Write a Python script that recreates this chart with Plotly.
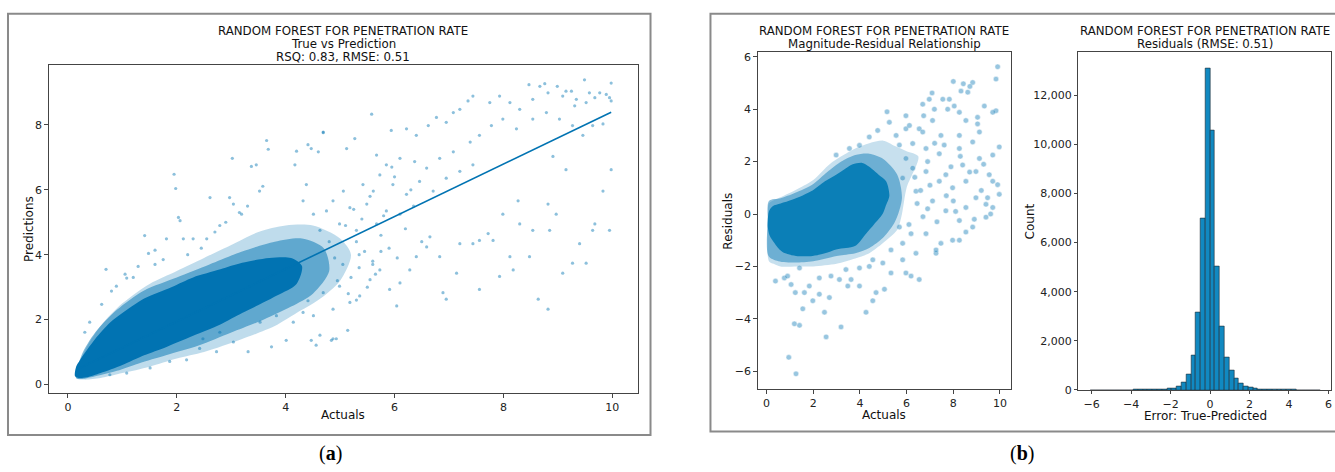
import plotly.graph_objects as go

# ---------------- DATA ----------------
# (a) True vs Prediction: density envelopes (core / mid / outer) and sparse points
pred_core_x = [0.13, 0.15, 0.22, 0.5, 0.77, 1.0, 1.4, 1.9, 2.3, 2.8, 3.2, 3.7, 4.1, 4.3, 4.2, 3.85, 3.5, 3.2, 2.8, 2.3, 1.8, 1.4, 1.0, 0.6, 0.35, 0.2]
pred_core_y = [0.25, 0.55, 0.75, 1.4, 1.9, 2.2, 2.65, 3.0, 3.3, 3.55, 3.75, 3.9, 3.9, 3.65, 3.1, 2.75, 2.45, 2.2, 1.85, 1.5, 1.15, 0.9, 0.6, 0.35, 0.22, 0.2]
pred_mid_x = [0.15, 0.25, 0.5, 0.9, 1.4, 2.0, 2.6, 3.2, 3.8, 4.3, 4.7, 4.8, 4.5, 4.1, 3.6, 3.0, 2.4, 1.8, 1.3, 0.9, 0.5, 0.3]
pred_mid_y = [0.2, 0.9, 1.6, 2.3, 2.9, 3.3, 3.7, 4.1, 4.4, 4.5, 4.2, 3.5, 2.8, 2.4, 2.0, 1.6, 1.2, 0.9, 0.65, 0.42, 0.25, 0.18]
pred_halo_x = [0.15, 0.3, 0.6, 1.0, 1.5, 2.0, 2.5, 3.0, 3.5, 4.0, 4.5, 5.0, 5.2, 5.0, 4.6, 4.2, 3.8, 3.2, 2.5, 2.0, 1.5, 1.0, 0.6, 0.3]
pred_halo_y = [0.2, 1.0, 1.8, 2.5, 3.1, 3.5, 3.9, 4.3, 4.7, 4.9, 4.9, 4.5, 4.0, 3.2, 2.6, 2.2, 1.8, 1.4, 1.0, 0.8, 0.55, 0.35, 0.2, 0.15]
pred_pts_x = [9.49, 9.98, 8.47, 8.76, 8.67, 8.99, 9.15, 9.25, 9.58, 9.77, 9.89, 9.95, 9.98, 9.68, 9.52, 9.31, 9.34, 9.09, 8.82, 8.54,
              8.30, 8.12, 7.93, 7.75, 7.44, 7.35, 7.20, 6.95, 7.08, 6.77, 6.62, 6.40, 6.22, 5.94, 5.58, 5.27, 5.12, 4.69, 4.47, 4.60,
              5.67, 5.85, 6.10, 6.37, 6.59, 6.83, 7.08, 7.39, 7.56, 7.78, 7.99, 8.24, 8.54, 8.79, 9.03, 9.27, 9.46, 9.64, 9.83, 5.42,
              5.61, 5.73, 5.97, 6.22, 6.46, 6.71, 6.95, 7.20, 7.44, 5.06, 4.87, 4.75, 5.18, 5.49, 5.85, 6.10, 4.99, 5.30, 5.67, 4.63,
              4.51, 4.32, 4.38, 9.98, 9.83, 9.68, 9.95, 9.52, 9.40, 9.15, 8.91, 8.82, 8.64, 8.82, 8.54, 8.48, 8.30, 8.18, 8.12, 7.93,
              7.81, 7.72, 7.56, 7.44, 7.20, 7.14, 6.95, 6.89, 6.83, 6.65, 6.59, 6.40, 6.28, 6.10, 6.04, 5.91, 5.73, 5.55, 5.36, 5.18,
              4.99, 4.87, 4.69, 4.51, 4.63, 4.87, 5.14, 4.47, 4.32, 7.56, 8.27, 7.99, 8.85, 8.97, 9.09, 9.27, 9.64,
              1.95, 1.98, 3.65, 3.68, 4.20, 4.17, 4.41, 4.69, 3.02, 3.37, 3.46, 3.52, 3.58, 2.97, 2.61, 2.79, 3.04, 3.19, 2.55, 2.30,
              2.12, 2.03, 2.06, 1.81, 1.60, 1.48, 1.41, 0.70, 0.80, 1.08, 1.29, 0.89, 0.62, 0.40, 0.31,
              3.31, 3.74, 4.01, 4.56, 4.84, 4.93, 4.14, 4.41, 3.04, 2.73, 2.42, 2.18, 1.87, 1.51, 1.08, 0.77, 2.48, 2.79, 3.53, 3.83,
              5.30, 5.45, 5.60, 5.35, 5.20, 5.50, 5.75, 5.90, 6.05, 5.65, 5.40, 5.25, 5.55, 5.80, 6.20, 6.35, 6.50, 6.00, 5.95, 6.30,
              4.90, 5.05, 4.95, 5.15, 5.30, 5.10, 4.80, 5.35, 5.60, 5.75, 2.20, 2.45, 2.70, 1.60, 1.75, 2.90, 3.15, 3.30, 1.20, 1.05]
pred_pts_y = [9.39, 9.29, 9.24, 9.27, 9.19, 9.19, 9.04, 9.04, 8.99, 8.99, 8.94, 8.84, 8.74, 8.84, 8.69, 8.59, 8.79, 8.89, 8.99, 8.79,
              8.48, 8.69, 8.89, 8.69, 8.89, 8.74, 8.48, 8.08, 8.38, 8.23, 7.98, 7.68, 7.88, 7.83, 8.33, 7.58, 7.27, 7.78, 7.27, 7.17,
              7.07, 6.77, 6.97, 6.87, 6.67, 6.97, 7.17, 7.47, 7.68, 7.98, 8.18, 7.88, 8.18, 8.38, 8.18, 7.98, 7.68, 7.98, 8.03, 6.16,
              5.96, 6.46, 6.16, 5.86, 6.26, 5.96, 6.36, 6.57, 6.77, 5.96, 5.66, 5.35, 5.45, 5.56, 5.35, 5.25, 4.95, 4.75, 4.95, 4.75,
              5.25, 5.66, 6.16, 6.62, 5.96, 4.95, 4.75, 3.74, 4.34, 6.62, 7.03, 5.56, 2.63, 2.32, 4.75, 3.94, 4.95, 3.53, 3.94, 3.33,
              4.44, 4.65, 2.93, 4.34, 4.34, 3.43, 2.63, 2.83, 3.94, 4.55, 4.24, 3.94, 3.53, 3.13, 2.42, 2.93, 3.53, 3.23, 2.73, 2.53,
              3.03, 2.32, 2.83, 2.12, 1.52, 1.41, 1.67, 1.36, 2.22, 4.44, 5.66, 5.25, 4.75, 5.25, 3.43, 3.74, 4.75,
              6.48, 6.04, 7.52, 7.25, 7.19, 6.77, 7.39, 7.76, 6.97, 6.72, 6.77, 5.96, 6.11, 5.76, 5.76, 4.90, 5.56, 5.25, 4.49, 4.49,
              4.49, 5.15, 5.05, 4.49, 4.14, 4.04, 4.59, 3.55, 2.88, 3.28, 3.64, 3.03, 2.47, 1.92, 1.61,
              1.01, 1.16, 1.36, 1.21, 1.36, 1.41, 1.92, 2.58, 1.31, 1.01, 1.11, 0.76, 0.71, 0.51, 0.35, 0.30, 1.41, 1.61, 1.92, 2.12,
              4.40, 4.10, 3.80, 3.60, 3.30, 3.00, 4.60, 4.20, 3.90, 3.40, 5.10, 5.40, 5.80, 5.20, 4.80, 5.50, 4.40, 6.40, 6.70, 6.00,
              3.90, 3.70, 3.20, 2.80, 2.60, 4.90, 4.40, 4.00, 3.70, 4.10, 4.00, 4.20, 4.70, 3.70, 3.85, 5.00, 5.30, 5.50, 3.30, 3.40]
fit_x = [0.15, 9.98]
fit_y = [0.45, 8.39]

# (b-left) Magnitude-Residual Relationship
res_core_x = [0.05, 0.1, 0.26, 0.6, 1.12, 1.97, 2.5, 2.98, 3.4, 3.69, 4.1, 4.4, 4.8, 5.12, 5.26, 5.1, 4.97, 4.6, 4.26, 3.83, 3.4, 2.98, 2.5, 1.97, 1.26, 0.8, 0.55, 0.25, 0.12, 0.05]
res_core_y = [-0.25, 0.1, 0.3, 0.4, 0.55, 0.9, 1.25, 1.5, 1.75, 1.9, 1.95, 1.8, 1.5, 1.25, 0.7, 0.3, 0.0, -0.4, -0.75, -1.2, -1.3, -1.35, -1.5, -1.6, -1.6, -1.5, -1.35, -1.0, -0.8, -0.5]
res_mid_x = [0.08, 0.05, 0.1, 0.6, 1.2, 2.0, 2.6, 3.2, 3.8, 4.4, 5.0, 5.6, 5.8, 5.5, 5.0, 4.4, 3.8, 3.0, 2.0, 1.2, 0.5]
res_mid_y = [-1.6, -0.2, 0.5, 0.6, 0.8, 1.15, 1.6, 2.0, 2.25, 2.3, 2.1, 1.5, 0.6, -0.3, -0.9, -1.3, -1.5, -1.6, -1.8, -1.85, -1.8]
res_halo_x = [0.1, 0.05, 0.1, 0.5, 1.2, 2.0, 2.7, 3.2, 3.8, 4.4, 5.0, 5.5, 6.0, 6.5, 6.0, 5.8, 5.6, 5.0, 4.4, 3.8, 3.0, 2.0, 1.3, 0.6, 0.3]
res_halo_y = [-1.8, -0.3, 0.4, 0.6, 0.9, 1.3, 1.9, 2.2, 2.5, 2.7, 2.8, 2.6, 2.4, 2.2, 1.0, 0.0, -0.6, -1.1, -1.5, -1.7, -1.9, -2.0, -2.0, -2.0, -1.9]
res_pts_x = [9.90, 9.83, 8.00, 8.43, 8.83, 8.71, 7.09, 6.69, 6.97, 7.55, 7.83, 8.33, 8.62, 8.26, 8.54, 9.04, 9.33, 9.83, 9.69, 5.16,
             5.97, 6.73, 7.19, 7.76, 8.04, 9.04, 9.12, 5.26, 4.76, 4.40, 5.97, 6.54, 7.11, 7.47, 8.26, 8.83, 9.97, 9.69, 9.12, 8.26,
             7.61, 6.83, 6.26, 5.69, 8.40, 8.97, 9.54, 9.90, 9.97, 9.47, 8.97, 8.54, 7.97, 7.40, 6.83, 6.26, 5.83, 6.40, 7.11, 7.68,
             8.26, 8.83, 9.40, 9.69, 8.54, 7.97, 7.47, 6.83, 6.19, 5.69, 5.83, 6.40, 7.26, 6.19, 6.54, 5.33, 5.83, 4.98, 5.33, 4.55,
             4.40, 5.05, 4.69, 4.55, 4.26, 3.62, 3.98, 3.48, 3.19, 2.55, 2.48, 2.69, 3.12, 2.26, 1.98, 1.55, 1.41, 1.19, 0.95, 1.26,
             1.62, 1.23, 1.83, 1.05, 0.76, 0.38, 0.90, 1.41, 2.26, 2.76, 3.40, 3.98, 5.97, 7.26, 8.26, 9.40, 9.69, 7.68, 8.54, 6.90,
             5.97, 6.69, 6.12, 5.55, 3.98, 3.55, 2.98,
             6.60, 6.90, 7.30, 7.00, 6.45, 7.70, 8.10, 8.70, 9.20, 9.60, 7.40, 7.90, 8.30, 6.70, 6.10, 7.20, 8.00, 8.90, 9.30, 6.35]
res_pts_y = [5.62, 5.15, 5.06, 4.97, 5.02, 4.87, 4.62, 4.19, 4.38, 4.38, 4.38, 4.69, 4.65, 3.88, 3.57, 3.69, 4.12, 3.94, 3.88, 3.90,
             3.75, 3.75, 4.00, 4.00, 4.12, 3.44, 3.13, 3.50, 3.19, 2.94, 3.25, 3.25, 3.57, 3.00, 3.00, 2.75, 2.56, 2.25, 2.12, 2.50,
             2.63, 2.50, 2.69, 2.63, 1.87, 1.62, 1.50, 1.12, 0.75, 0.62, 0.62, 0.25, 1.00, 1.25, 1.62, 1.75, 1.37, 0.87, 0.50, 0.12,
             -0.25, -0.50, -0.12, 0.25, -0.69, -1.00, -1.12, -0.75, -0.75, -0.50, -1.12, -1.50, -1.50, -2.37, -2.50, -2.25, -1.75, -1.87, -1.37, -1.75,
             -2.00, -2.87, -3.00, -3.31, -3.75, -2.50, -2.75, -2.75, -4.31, -4.69, -3.75, -3.19, -2.50, -3.06, -3.31, -3.62, -4.25, -4.19, -5.47, -6.10,
             -3.00, -3.00, -2.75, -2.69, -2.44, -2.56, -2.37, -2.06, -2.44, -2.37, -2.12, -2.06, -2.25, -1.37, -1.00, 0.37, 1.25, 1.50, 1.25, 2.00,
             2.12, 3.13, 3.38, 3.00, 2.62, 2.50, 2.25,
             0.90, 0.20, -0.30, 1.10, 0.40, 0.70, 0.10, 1.60, 0.90, 0.00, 2.30, 1.80, 2.20, -0.10, -0.40, 2.70, 0.50, -0.20, 1.90, 1.40]

# (b-right) Residual histogram
bin_start = -6.06
bin_width = 0.2425
bin_counts = [1, 1, 1, 1, 2, 2, 2, 3, 3, 4, 5, 6, 8, 12, 20, 30, 50, 80, 160, 296,
              628, 1400, 3160, 6988, 13096, 10560, 5028, 2588, 1336, 788, 456, 256, 160, 88, 50, 35, 22, 15, 10, 8,
              6, 5, 4, 3, 2, 2, 1, 1]

# ---------------- FIGURE ----------------
W, H = 1335, 472
BLUE = "#0173B2"
FONT = "DejaVu Sans"

def fx(px):
    return px / W

def fy(py):
    return 1 - py / H

fig = go.Figure()

def blob(xs, ys, color, xa, ya):
    fig.add_trace(go.Scatter(x=xs + [xs[0]], y=ys + [ys[0]], mode="lines",
                             line=dict(width=0, shape="spline", smoothing=0.8), fill="toself",
                             fillcolor=color, hoverinfo="skip", xaxis=xa, yaxis=ya))

# (a)
blob(pred_halo_x, pred_halo_y, "rgba(1,115,178,0.25)", "x", "y")
blob(pred_mid_x, pred_mid_y, "rgba(1,115,178,0.5)", "x", "y")
blob(pred_core_x, pred_core_y, BLUE, "x", "y")
fig.add_trace(go.Scatter(x=pred_pts_x, y=pred_pts_y, mode="markers",
                         marker=dict(size=3.2, color=BLUE, opacity=0.45, line=dict(width=0)),
                         xaxis="x", yaxis="y"))
fig.add_trace(go.Scatter(x=fit_x, y=fit_y, mode="lines", line=dict(color=BLUE, width=1.6),
                         xaxis="x", yaxis="y"))

# (b) residual scatter
blob(res_halo_x, res_halo_y, "rgba(1,115,178,0.22)", "x2", "y2")
blob(res_mid_x, res_mid_y, "rgba(1,115,178,0.45)", "x2", "y2")
blob(res_core_x, res_core_y, "#0b7fb7", "x2", "y2")
fig.add_trace(go.Scatter(x=res_pts_x, y=res_pts_y, mode="markers",
                         marker=dict(size=5.5, color=BLUE, opacity=0.4, line=dict(width=0.5, color="white")),
                         xaxis="x2", yaxis="y2"))

# (b) histogram
centers = [bin_start + bin_width * (i + 0.5) for i in range(len(bin_counts))]
fig.add_trace(go.Bar(x=centers, y=bin_counts, width=bin_width,
                     marker=dict(color="#1189c1", line=dict(color="#1f2a33", width=0.6)),
                     xaxis="x3", yaxis="y3"))

axis_common = dict(showline=True, mirror=True, linecolor="#444", linewidth=1, showgrid=False,
                   zeroline=False, ticks="outside", ticklen=3.5, tickcolor="#444", tickwidth=1,
                   tickfont=dict(family=FONT, size=11, color="#222"))

fig.update_layout(
    width=W, height=H, autosize=False, margin=dict(l=0, r=0, t=0, b=0),
    paper_bgcolor="white", plot_bgcolor="white", showlegend=False, bargap=0,
    xaxis=dict(domain=[fx(48.7), fx(638.7)], range=[-0.354, 10.477], tickvals=[0, 2, 4, 6, 8, 10],
               anchor="y", **axis_common),
    yaxis=dict(domain=[fy(399), fy(65)], range=[-0.27, 9.85], tickvals=[0, 2, 4, 6, 8],
               anchor="x", **axis_common),
    xaxis2=dict(domain=[fx(758.3), fx(1011.7)], range=[-0.38, 10.47], tickvals=[0, 2, 4, 6, 8, 10],
                anchor="y2", **axis_common),
    yaxis2=dict(domain=[fy(395), fy(51.7)], range=[-6.69, 6.19], tickvals=[-6, -4, -2, 0, 2, 4, 6],
                anchor="x2", **axis_common),
    xaxis3=dict(domain=[fx(1079.3), fx(1332)], range=[-6.67, 6.13], tickvals=[-6, -4, -2, 0, 2, 4, 6],
                anchor="y3", **axis_common),
    yaxis3=dict(domain=[fy(395.7), fy(52.3)], range=[0, 13736], tickvals=[0, 2000, 4000, 6000, 8000, 10000, 12000],
                tickformat=",d", anchor="x3", **axis_common),
)

# outer panel frames
fig.add_shape(type="rect", xref="paper", yref="paper", x0=fx(8), x1=fx(651), y0=fy(441.5), y1=fy(13),
              line=dict(color="#8a8a8a", width=2))
fig.add_shape(type="rect", xref="paper", yref="paper", x0=fx(711), x1=fx(1345), y0=fy(438), y1=fy(13),
              line=dict(color="#8a8a8a", width=2))

def ann(text, px, py, size=11.5, angle=0, family=FONT, color="#111"):
    fig.add_annotation(text=text, x=fx(px), y=fy(py), xref="paper", yref="paper", showarrow=False,
                       xanchor="center", yanchor="middle", textangle=angle,
                       font=dict(family=family, size=size, color=color))

# titles
ann("RANDOM FOREST FOR PENETRATION RATE", 343.7, 31, size=11.8)
ann("True vs Prediction", 343.7, 44, size=11.8)
ann("RSQ: 0.83, RMSE: 0.51", 343.7, 57, size=11.8)
ann("RANDOM FOREST FOR PENETRATION RATE", 885, 31, size=11.8)
ann("Magnitude-Residual Relationship", 885, 44, size=11.8)
ann("RANDOM FOREST FOR PENETRATION RATE", 1206, 31, size=11.8)
ann("Residuals (RMSE: 0.51)", 1206, 44, size=11.8)

# axis titles
ann("Actuals", 343.7, 421, size=12)
ann("Predictions", 29, 232, size=12, angle=-90)
ann("Actuals", 885, 421, size=12)
ann("Residuals", 729, 224, size=12, angle=-90)
ann("Count", 1031, 224, size=12, angle=-90)
ann("Error: True-Predicted", 1206, 422, size=12)

# panel labels
ann("(<b>a</b>)", 331, 460, size=20, family="Liberation Serif", color="#000")
ann("(<b>b</b>)", 1023, 460, size=20, family="Liberation Serif", color="#000")

post = (
    "var gd=document.getElementById('{plot_id}');"
    "var wr=gd.parentElement;"
    "document.documentElement.style.cssText='margin:0;padding:0;overflow:hidden;height:472px';"
    "document.body.style.cssText='margin:0;padding:0;overflow:hidden;height:472px';"
    "wr.style.cssText='margin:0;padding:0;height:472px;overflow:hidden';"
    "gd.style.overflow='hidden';"
    "var sc=gd.querySelector('.svg-container'); if(sc){sc.style.display='block';}"
)
fig.write_html("out.html", config={"displayModeBar": False, "responsive": False}, post_script=post)
